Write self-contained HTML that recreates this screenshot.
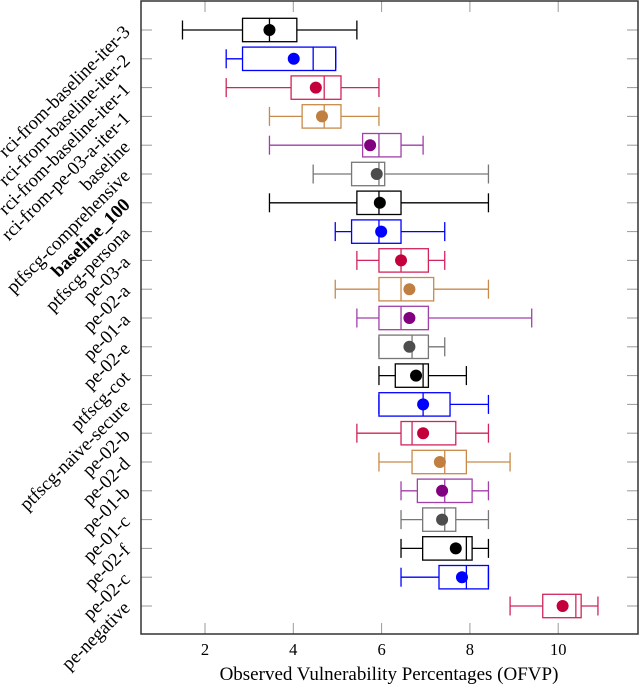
<!DOCTYPE html>
<html><head><meta charset="utf-8"><style>
html,body{margin:0;padding:0;background:#fff;}
svg{display:block;font-family:"Liberation Serif",serif;}
</style></head><body>
<svg id="chart" width="640" height="685" viewBox="0 0 640 685"></svg>
<script>
const categories=["rci-from-baseline-iter-3","rci-from-baseline-iter-2","rci-from-baseline-iter-1","rci-from-pe-03-a-iter-1","baseline","ptfscg-comprehensive","baseline_100","ptfscg-persona","pe-03-a","pe-02-a","pe-01-a","pe-02-e","ptfscg-cot","ptfscg-naive-secure","pe-02-b","pe-02-d","pe-01-b","pe-01-c","pe-02-f","pe-02-c","pe-negative"];
const wMin=[1.49,2.48,2.48,3.46,3.46,4.45,3.46,4.95,5.44,4.95,5.44,5.94,5.94,5.94,5.44,5.94,6.44,6.44,6.44,6.44,8.91];
const q1=[2.85,2.85,3.95,4.20,5.57,5.32,5.44,5.32,5.94,5.94,5.94,5.94,6.31,5.94,6.44,6.69,6.81,6.93,6.93,7.30,9.65];
const medians=[3.46,4.45,4.70,4.70,5.94,5.94,5.94,5.94,6.44,6.44,6.44,6.69,6.94,6.94,6.69,7.43,7.43,7.43,7.92,7.92,10.40];
const q3=[4.08,4.96,5.08,5.08,6.44,6.07,6.44,6.44,7.06,7.18,7.06,7.06,7.06,7.55,7.68,7.92,8.05,7.68,8.05,8.42,10.52];
const wMax=[5.44,4.96,5.94,5.94,6.94,8.42,8.42,7.43,7.43,8.42,9.40,7.43,7.92,8.42,8.42,8.91,8.42,8.42,8.42,8.42,10.90];
const means=[3.46,4.01,4.51,4.65,5.74,5.89,5.96,5.99,6.44,6.63,6.63,6.63,6.78,6.94,6.94,7.32,7.37,7.37,7.68,7.82,10.10];
const xTicks=[2,4,6,8,10];
const palette=[["#000","#000"],["#0000ff","#0000ff"],["#d0255a","#c4003c"],["#c88a4a","#c07e40"],["#a040a8","#800080"],["#777","#4d4d4d"]];
const L=141,R=638,T=1,B=634;
const x=v=>205+(v-2)*44.15;
const y=i=>30+i*28.8;
const svg=document.getElementById('chart');
const NS='http://www.w3.org/2000/svg';
function mk(tag,attrs,parent){const e=document.createElementNS(NS,tag);for(const k in attrs)e.setAttribute(k,attrs[k]);(parent||svg).appendChild(e);return e;}
xTicks.forEach(t=>{
 const a=mk('line',{x1:x(t),x2:x(t),y1:T,y2:T+11,stroke:'#999','stroke-width':1});
 
 const b=mk('line',{x1:x(t),x2:x(t),y1:B,y2:B-11,stroke:'#999','stroke-width':1});
 
 const tx=mk('text',{x:x(t),y:655,'text-anchor':'middle','font-size':16.5});
 tx.textContent=t;
 
});
categories.forEach((c,i)=>{
 const a=mk('line',{x1:L,x2:L+11,y1:y(i),y2:y(i),stroke:'#999','stroke-width':1});
 
 const b=mk('line',{x1:R,x2:R-11,y1:y(i),y2:y(i),stroke:'#999','stroke-width':1});
 
 const tx=mk('text',{x:131,y:y(i)+3,'text-anchor':'end','font-size':18.8,transform:`rotate(-45 131 ${y(i)+3})`});
 if(c==='baseline_100')tx.setAttribute('font-weight','bold');
 tx.textContent=c;
 
});
categories.forEach((c,i)=>{
 const [sc,fc]=palette[i%6];
 const g=mk('g',{stroke:sc,'stroke-width':1.3,fill:'none'});
 
 const yy=y(i),h=11.7,cap=9.5;
 mk('line',{x1:x(wMin[i]),x2:x(q1[i]),y1:yy,y2:yy},g);
 mk('line',{x1:x(q3[i]),x2:x(wMax[i]),y1:yy,y2:yy},g);
 mk('line',{x1:x(wMin[i]),x2:x(wMin[i]),y1:yy-cap,y2:yy+cap},g);
 mk('line',{x1:x(wMax[i]),x2:x(wMax[i]),y1:yy-cap,y2:yy+cap},g);
 mk('rect',{x:x(q1[i]),y:yy-h,width:x(q3[i])-x(q1[i]),height:2*h},g);
 mk('line',{x1:x(medians[i]),x2:x(medians[i]),y1:yy-h,y2:yy+h},g);
 const m=mk('circle',{cx:x(means[i]),cy:yy,r:6,fill:fc,stroke:'none'});
 
});
const fr=mk('rect',{x:L,y:T,width:R-L,height:B-T,fill:'none',stroke:'#333','stroke-width':1.5});

const tt=mk('text',{x:389,y:680,'text-anchor':'middle','font-size':19});
tt.textContent='Observed Vulnerability Percentages (OFVP)';

</script>
</body></html>
